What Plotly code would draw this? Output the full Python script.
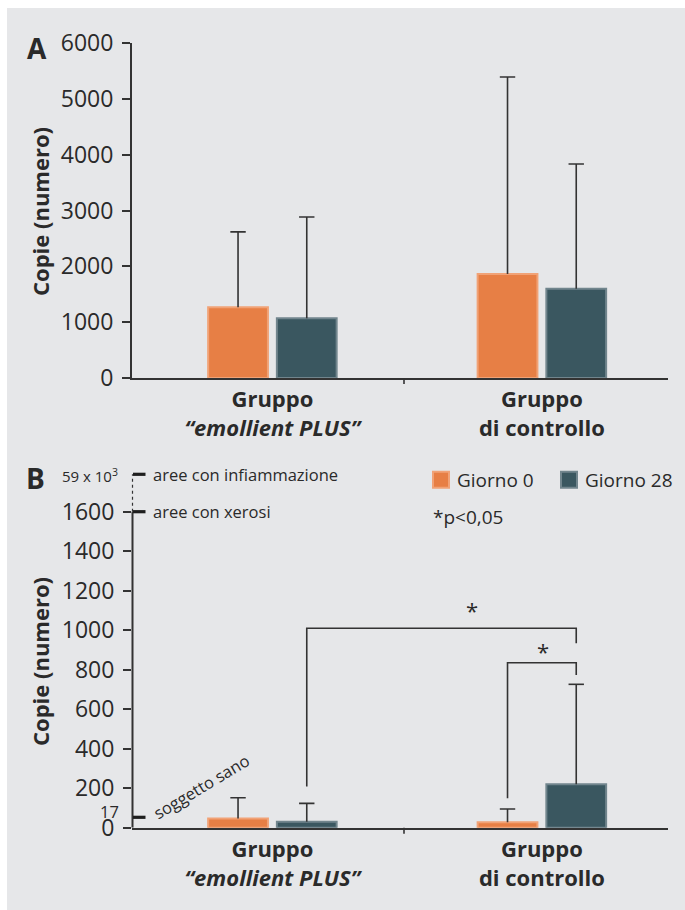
import plotly.graph_objects as go

# ---------------- data ----------------
categories = ["<b>Gruppo</b><br><b><i>“emollient PLUS”</i></b>", "<b>Gruppo</b><br><b>di controllo</b>"]
series_names = ["Giorno 0", "Giorno 28"]

# Panel A
a_giorno0 = [1270, 1865]
a_giorno0_err = [1350, 3530]
a_giorno28 = [1070, 1600]
a_giorno28_err = [1815, 2235]
a_ticks = [0, 1000, 2000, 3000, 4000, 5000, 6000]

# Panel B
b_giorno0 = [47, 27]
b_giorno0_err = [105, 68]
b_giorno28 = [30, 220]
b_giorno28_err = [93, 506]
b_ticks = [0, 200, 400, 600, 800, 1000, 1200, 1400, 1600]
ref_labels = ["aree con infiammazione", "aree con xerosi", "soggetto sano"]
ref_values = ["59 x 10<sup>3</sup>", "1600", "17"]
p_note = "*p<0,05"
y_title = "Copie (numero)"

# ---------------- style ----------------
W, H = 685, 910
FONT = "Open Sans"
TXT = "#2a2a2a"
AX = "#333333"
BG = "#e6e7e9"
ORANGE, ORANGE_EDGE = "#e77f45", "#f1a276"
TEAL, TEAL_EDGE = "#3a5760", "#71858d"
BARGAP = 0.49


def px(x):
    return x / W


def py(y):
    return (H - y) / H


XDOM = [px(132), px(668)]
A_DOM = [py(378), py(43.3)]
B_DOM = [py(827.7), py(474.3)]
B_TOP = (827.7 - 474.3) / ((827.7 - 511.7) / 1600)
XR = [-0.521, 1.468]

positions = list(range(len(categories)))
off = (1 - BARGAP) / 4  # half of one bar slot

fig = go.Figure()
err_style = dict(type="data", symmetric=False, color=AX, thickness=1.6, width=0)

for xa, ya, v0, e0, v1, e1 in [("x", "y", a_giorno0, a_giorno0_err, a_giorno28, a_giorno28_err),
                               ("x2", "y2", b_giorno0, b_giorno0_err, b_giorno28, b_giorno28_err)]:
    fig.add_trace(go.Bar(x=positions, y=v0, name=series_names[0], xaxis=xa, yaxis=ya,
                         marker=dict(color=ORANGE, line=dict(color=ORANGE_EDGE, width=2)),
                         error_y=dict(array=e0, arrayminus=[0] * len(e0), **err_style),
                         showlegend=False, offsetgroup="0"))
    fig.add_trace(go.Bar(x=positions, y=v1, name=series_names[1], xaxis=xa, yaxis=ya,
                         marker=dict(color=TEAL, line=dict(color=TEAL_EDGE, width=2)),
                         error_y=dict(array=e1, arrayminus=[0] * len(e1), **err_style),
                         showlegend=False, offsetgroup="1"))
    # caps of the (one-sided) error bars
    cap_x = [p - off for p in positions] + [p + off for p in positions]
    cap_y = [v + e for v, e in zip(v0, e0)] + [v + e for v, e in zip(v1, e1)]
    fig.add_trace(go.Scatter(x=cap_x, y=cap_y, xaxis=xa, yaxis=ya, mode="markers",
                             marker=dict(symbol="line-ew", size=11, line=dict(color=AX, width=1.6)),
                             showlegend=False, hoverinfo="skip"))

xcommon = dict(domain=XDOM, range=XR, showline=True, linecolor=AX, linewidth=2, ticks="",
               showgrid=False, zeroline=False, tickfont=dict(family=FONT, size=22, color=TXT),
               tickmode="array", tickvals=positions, ticktext=categories, ticklabelstandoff=1,
               automargin=False)
ycommon = dict(showgrid=False, zeroline=False, ticks="outside", ticklen=8, tickwidth=1.6, tickcolor=AX,
               tickfont=dict(family=FONT, size=23, color=TXT), ticklabelstandoff=4, automargin=False)

fig.update_layout(
    template="none",
    width=W, height=H, autosize=False,
    margin=dict(l=0, r=0, t=0, b=0, pad=0),
    paper_bgcolor="white", plot_bgcolor="rgba(0,0,0,0)",
    barmode="group", bargap=BARGAP, bargroupgap=0.13,
    font=dict(family=FONT, color=TXT),
    xaxis=dict(anchor="y", **xcommon),
    yaxis=dict(anchor="x", domain=A_DOM, range=[0, 6000], tickvals=a_ticks,
               showline=True, linecolor=AX, linewidth=2, **ycommon),
    xaxis2=dict(anchor="y2", **xcommon),
    yaxis2=dict(anchor="x2", domain=B_DOM, range=[0, B_TOP], tickvals=b_ticks,
                showline=False, **ycommon),
)

shapes = []
# background panel
shapes.append(dict(type="rect", xref="paper", yref="paper", x0=px(7), x1=1, y0=0, y1=py(8),
                   fillcolor=BG, line=dict(width=0), layer="below"))
# middle ticks on x axes
for yy in (378, 827.7):
    shapes.append(dict(type="line", xref="paper", yref="paper", x0=px(404), x1=px(404),
                       y0=py(yy), y1=py(yy + 6), line=dict(color=AX, width=1.6)))
# B y axis line (solid to 1600, dotted above)
shapes.append(dict(type="line", xref="paper", yref="y2", x0=px(132.5), x1=px(132.5), y0=0, y1=1600,
                   line=dict(color=AX, width=2)))
shapes.append(dict(type="line", xref="paper", yref="paper", x0=px(132.5), x1=px(132.5),
                   y0=py(511.7), y1=py(474.3), line=dict(color=AX, width=1.2, dash="dot")))
# thick reference marks
for yy in (474.3, 511.7, 817.3):
    shapes.append(dict(type="line", xref="paper", yref="paper", x0=px(133), x1=px(145.5),
                       y0=py(yy), y1=py(yy), line=dict(color="#1e1e1e", width=3.2)))
# significance brackets
shapes.append(dict(type="path", xref="x2", yref="y2",
                   path=f"M {0 + off},208 L {0 + off},1010 L {1 + off},1010 L {1 + off},934",
                   line=dict(color=AX, width=1.6)))
shapes.append(dict(type="path", xref="x2", yref="y2",
                   path=f"M {1 - off},149 L {1 - off},835 L {1 + off},835 L {1 + off},773",
                   line=dict(color=AX, width=1.6)))
# legend squares
for x0, fc, lc in ((432, ORANGE, ORANGE_EDGE), (560, TEAL, TEAL_EDGE)):
    shapes.append(dict(type="rect", xref="paper", yref="paper", x0=px(x0 + 1), x1=px(x0 + 17),
                       y0=py(487.7), y1=py(471.7), fillcolor=fc, line=dict(color=lc, width=2)))
fig.update_layout(shapes=shapes)

ann = []


def add_text(text, x, y, size, xanchor="left", angle=0, bold=False, yanchor="middle", xref="paper", yref="paper"):
    ann.append(dict(text=f"<b>{text}</b>" if bold else text, x=x, y=y, xref=xref, yref=yref,
                    xanchor=xanchor, yanchor=yanchor, showarrow=False, textangle=angle,
                    font=dict(family=FONT, size=size, color=TXT)))


add_text("A", px(37), py(48), 28, xanchor="center", bold=True)
add_text("B", px(35.5), py(478), 28, xanchor="center", bold=True)
add_text(y_title, px(40), py(212), 22, xanchor="center", angle=-90, bold=True)
add_text(y_title, px(40), py(662), 22, xanchor="center", angle=-90, bold=True)
add_text(ref_values[0], px(120), py(475.5), 15, xanchor="right")
add_text(ref_values[2], px(120.5), py(811.5), 16.5, xanchor="right")
add_text(ref_labels[0], px(151), py(474.3), 16.5)
add_text(ref_labels[1], px(151), py(511.7), 16.5)
add_text(ref_labels[2], px(201), py(786), 16.5, xanchor="center", angle=-31)
add_text(series_names[0], px(455), py(480), 19)
add_text(series_names[1], px(582.5), py(480), 19)
add_text(p_note, px(431), py(517), 19)
add_text("*", 0.74, 1104, 22, xanchor="center", xref="x2", yref="y2")
add_text("*", 1.005, 893, 22, xanchor="center", xref="x2", yref="y2")
fig.update_layout(annotations=ann)

fig.write_html("out.html", config={"displayModeBar": False},
               post_script="document.body.style.margin='0';")
